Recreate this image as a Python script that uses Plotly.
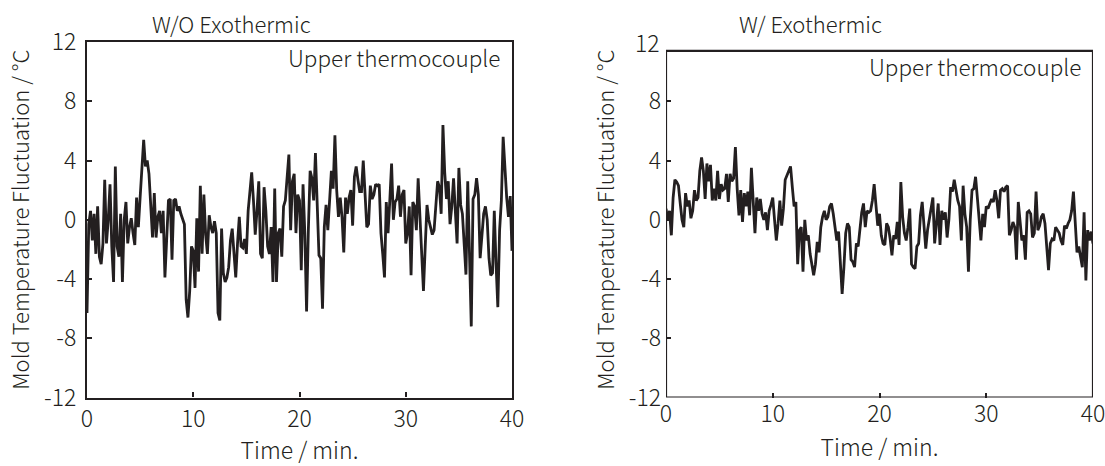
import plotly.graph_objects as go

# ---------------- data ----------------
sample_step_min = 1 / 6  # one reading every 10 s

wo_exothermic = [
    -6.3, -0.3, 0.6, -1.4, 0.4, -2.3, 0.9, -2.5, -3.0, -1.6,
    2.7, -1.6, 0.0, 2.4, -1.8, -4.2, 3.6, -1.8, -2.5, 0.4,
    -4.2, 0.0, 1.2, -1.6, -0.5, 0.1, -0.9, -1.7, 1.5, -0.5,
    1.5, 3.6, 5.4, 3.6, 4.0, 3.1, 0.6, -1.2, 1.8, -1.2,
    0.2, 0.6, -0.9, 0.6, -3.9, -0.9, 1.3, 1.4, -2.7, 1.3,
    1.4, 0.6, 0.9, 0.4, 0.1, -0.3, -5.4, -6.6, -4.8, -1.8,
    -2.1, -4.6,
    0.1, -3.5, 2.3, -2.3, 1.7, -1.0, -2.3, 0.3, -0.5, -0.9,
    -0.1, -0.9, -6.3, -6.8, -0.6, -3.6, -4.2, -3.9, -3.2, -1.4,
    -0.6, -2.3, -3.9, -1.6, 0.2, -1.8, -1.9, -1.3, -2.3, 0.6,
    2.2, 3.2, 1.3, -1.0, 0.6, 2.6, -2.3, -2.6, 2.2, 0.6,
    -1.8, -2.3, -0.5, -4.2, 2.1, -4.2, -0.9, -0.6, -2.5, 0.9,
    1.3, 3.1, 4.4, -0.7, 2.6, 3.1, -0.9, 1.7, 1.3,
    -3.4, 2.4, -0.9, -6.2, -0.7, 3.3, 2.8, 1.3, 4.5, 1.3,
    -2.4, -2.6, -6.0, -0.5, 1.0, -0.7, 1.3, 3.3, 2.1, 5.7,
    2.0, 0.2, 1.5, 0.2, -2.2, 1.5, 0.4, 1.5, 2.0, -0.4,
    2.9, 3.6, 2.7, 1.9, 1.9, 4.0, 1.8, -0.5, -0.3, 2.3,
    1.4, 1.7, 2.4, 2.3, 2.4, -0.9, -2.3, -3.9, 1.2, -0.9,
    1.3, 3.8, 0.0, 1.2, 1.4, 2.3, 0.2, 1.7, 2.0, -1.6,
    -0.9,
    0.9, -3.75, 1.2, 0.9, -0.7, 2.8, 0.4, -1.4, -4.8, -1.8,
    1.0, 0.0, -0.6, -1.0, -0.7, 0.9, 2.6, 2.2, 0.4, 6.4,
    3.2, 1.4, 2.6, -0.3, 0.9, 2.8, 0.6, -1.6, 3.5, 1.0,
    0.4, -1.4, -3.7, 2.6, -1.6, -7.2, 1.4, 1.7, 2.8, 1.7,
    -2.6, -1.2, 0.4, 0.9, 0.0, -2.6, -3.75, -3.6, 0.6, -3.0,
    -5.9, -0.7, 1.3, 5.6, 3.2, 1.5, 0.2, 1.6, -2.1,
]

w_exothermic = [
    0.75, 0.0, 0.6, -1.05, 1.5, 2.7, 2.55, 2.3, 1.1, 0.0,
    -0.5, 1.8, 0.9, 1.3, 0.1, 0.6, 2.0, 1.3, 1.5, 3.3,
    4.2, 3.3, 1.4, 3.8, 2.6, 3.7, 1.3, 2.1, 1.3, 3.3,
    1.4, 2.4, 2.0, 2.1, 3.1, 1.2, 3.1, 2.6, 2.8, 4.9,
    2.1, 0.3, 2.0, -0.15, 1.8, 0.9, 1.9, 0.3, 3.5, 1.3,
    -0.9, 1.5, 0.6, 1.4, 0.4, 0.0, 0.5, -0.7, 0.6,
    1.0, 1.5, 0.0, -1.4, -0.25, 1.3, -0.4, 0.75, 2.7, 3.0,
    3.2, 3.6, 2.2, 0.9, 1.2, -3.0, -0.7, -0.5, -3.5, 0.0,
    -1.4, -1.05, -2.3, -3.2, -3.75, -3.0, -1.5, -2.2, -0.5, 0.2,
    0.6, 0.0, 0.2, 0.9, 1.1, 0.4, -0.5, -1.4, -0.8, -3.0,
    -5.0, -3.2, -0.9, -0.25, -0.5, -2.7, -2.85, -3.2, -1.6, -1.8,
    -0.5, 0.5, 1.1, -0.5, 0.6, 0.5, 0.6, 1.3, 2.4,
    1.0, -0.4, 0.4, -1.05, -1.6, -1.7, -0.25, -0.5, -1.3, -2.4,
    -1.05, -1.3, -0.15, -1.7, 2.55, 0.2, -0.9, -1.4, -0.5, 0.75,
    -3.0, -3.2, -3.3, -1.8, -1.6, 0.3, 1.2, -0.7, -1.95, -0.7,
    0.1, 0.9, 1.5, -1.6, -0.15, 1.1, -1.7, 0.6, 0.0, 0.5,
    -1.2, 0.0, 2.2, 1.9, 2.7, 1.9, 1.3, 0.9, -1.4, 2.3,
    0.4, -0.5, -3.5, 0.0, 2.0, 2.1, 2.9, 1.5, 0.2,
    -1.4, 0.4, -0.5, 0.9, 0.75, 1.1, 1.4, 1.2, 2.0, 1.3,
    0.1, 2.0, 2.1, 1.9, 2.2, 2.3, -1.05, -0.7, -0.15, -0.5,
    -2.7, 1.2, 0.0, -1.4, -1.05, -2.7, 0.5, 0.6, 0.4, -1.2,
    -0.9, 1.9, -0.7, -0.4, 0.2, 0.4, -0.25, -1.8, -3.4, -1.6,
    -1.3, -1.4, -0.5, -0.7, -0.9, -1.4, -1.7, -0.4, -0.6, -0.25,
    0.0, 0.6, 1.9, -0.15, -2.2, -1.8, -2.4, -3.2, 0.5, -4.1,
    -0.7, -1.4, -0.8, -1.6,
]

x_range = [0, 40]
y_range = [-12, 12]
x_ticks = [0, 10, 20, 30, 40]
y_ticks = [-12, -8, -4, 0, 4, 8, 12]
right_frame_top = 11.4  # the right panel's box is drawn slightly below 12

panel_titles = ["W/O Exothermic", "W/ Exothermic"]
sensor_label = "Upper thermocouple"
x_title = "Time / min."
y_title = "Mold Temperature Fluctuation / °C"

# ---------------- styling ----------------
W, H = 1105, 466
INK = "#231f20"
TEXT_FONT = "Noto Sans CJK JP, Noto Sans, sans-serif"
NUM_FONT = "Noto Sans CJK JP, Noto Sans, sans-serif"
NUM = dict(family=NUM_FONT, size=23, color=INK, weight=300)

def fx(px):
    return px / W

def fy(py):
    return 1 - py / H

t_wo = [i * sample_step_min for i in range(len(wo_exothermic))]
t_w = [i * sample_step_min for i in range(len(w_exothermic))]

fig = go.Figure()
fig.add_trace(go.Scatter(x=t_wo, y=wo_exothermic, mode="lines",
                         line=dict(color=INK, width=2.8), xaxis="x", yaxis="y",
                         showlegend=False, hoverinfo="skip"))
fig.add_trace(go.Scatter(x=t_w, y=w_exothermic, mode="lines",
                         line=dict(color=INK, width=2.8), xaxis="x2", yaxis="y2",
                         showlegend=False, hoverinfo="skip"))

def xaxis_cfg(domain, frame):
    return dict(
        domain=domain, range=x_range, tickvals=x_ticks, ticks="inside",
        ticklen=5, tickwidth=1.5, tickcolor=INK, showgrid=False, zeroline=False,
        showline=frame, mirror=frame, linecolor=INK, linewidth=2.2,
        tickfont=NUM, ticklabelstandoff=0, ticklabeloverflow="allow", automargin=False,
        title=dict(text=x_title, font=dict(family=TEXT_FONT, size=23, color=INK, weight=300),
                   standoff=12),
    )

def yaxis_cfg(domain, frame, tickvals):
    return dict(
        domain=domain, range=y_range, tickvals=tickvals,
        ticktext=[str(v) for v in tickvals], ticks="inside",
        ticklen=5, tickwidth=1.5, tickcolor=INK, showgrid=False, zeroline=False,
        showline=frame, mirror=frame, linecolor=INK, linewidth=2.2,
        tickfont=NUM, ticklabelstandoff=4, ticklabeloverflow="allow", automargin=False,
        title=dict(text=y_title, font=dict(family=TEXT_FONT, size=22, color=INK, weight=300),
                   standoff=8),
    )

y_dom = [fy(397.5), fy(42)]
fig.update_layout(
    width=W, height=H, margin=dict(l=0, r=0, t=0, b=0, autoexpand=False),
    paper_bgcolor="white", plot_bgcolor="white",
    xaxis=xaxis_cfg([fx(87), fx(512)], True),
    yaxis=yaxis_cfg(y_dom, True, y_ticks),
    xaxis2=dict(xaxis_cfg([fx(666), fx(1093)], False), anchor="y2"),
    yaxis2=dict(yaxis_cfg(y_dom, False, [v for v in y_ticks if v < 12]), anchor="x2"),
)

# right panel frame
fig.add_shape(type="rect", xref="x2", yref="y2", x0=x_range[0], x1=x_range[1],
              y0=y_range[0], y1=right_frame_top, line=dict(color=INK, width=2.2),
              layer="above")

# label for the top tick of the right panel (its box stops below it)
fig.add_annotation(xref="x2", yref="y2", x=x_range[0], y=y_ticks[-1], text=str(y_ticks[-1]),
                   showarrow=False, xanchor="right", yanchor="middle", xshift=-4,
                   font=NUM)

# panel titles
for title, cx in zip(panel_titles, [231, 810]):
    fig.add_annotation(xref="paper", yref="paper", x=fx(cx), y=fy(23), text=title,
                       showarrow=False, xanchor="center", yanchor="middle",
                       font=dict(family=TEXT_FONT, size=22, color=INK, weight=300))

# sensor labels
fig.add_annotation(xref="x domain", yref="y domain", x=1, y=1, text=sensor_label,
                   showarrow=False, xanchor="right", yanchor="top", xshift=-10, yshift=3,
                   font=dict(family=TEXT_FONT, size=22.5, color=INK, weight=300))
fig.add_annotation(xref="x2 domain", yref="y2", x=1, y=right_frame_top, text=sensor_label,
                   showarrow=False, xanchor="right", yanchor="top", xshift=-10, yshift=3,
                   font=dict(family=TEXT_FONT, size=22.5, color=INK, weight=300))

fig.write_html("out.html")
